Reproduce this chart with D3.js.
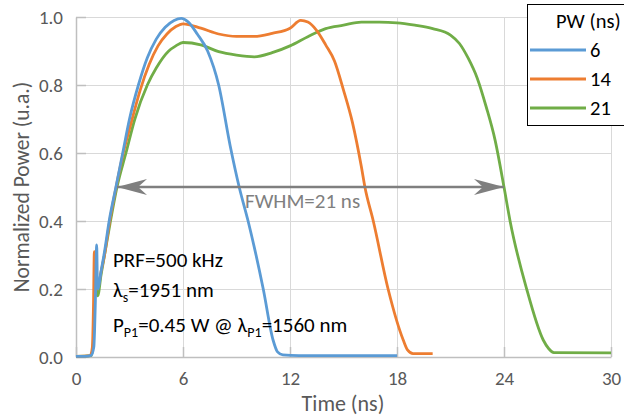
<!DOCTYPE html>
<html lang="en">
<head>
    <meta charset="UTF-8" />
    <title>Normalized pulse shapes</title>
    <style>
        body { margin: 0; background: #fff; }
        svg text { font-family: Carlito, Calibri, Lato, sans-serif; }
    </style>
</head>
<body>
    <svg id="chart" width="624" height="419"></svg>

    <script src="https://d3js.org/d3.v7.min.js"></script>
    <script>
        // --- Data (time in ns, normalized power) ---
        const xTicks = [0, 6, 12, 18, 24, 30];
        const yTicks = [0.0, 0.2, 0.4, 0.6, 0.8, 1.0];
        const seriesNames = ["6", "14", "21"];
        const seriesColors = ["#5B9BD5", "#ED7D31", "#70AD47"];

        const pw6 = [
            [0, 0.002], [0.5, 0.002], [0.85, 0.005], [1.0, 0.03], [1.08, 0.15], [1.16, 0.33],
            [1.2, 0.22], [1.24, 0.2], [1.4, 0.25], [1.6, 0.31], [1.86, 0.4], [2.24, 0.5],
            [2.62, 0.6], [3.0, 0.7], [3.5, 0.8], [4.0, 0.88], [4.5, 0.935], [5.0, 0.97],
            [5.5, 0.99], [5.9, 0.996], [6.3, 0.985], [6.8, 0.95], [7.38, 0.9], [8.0, 0.8],
            [8.65, 0.62], [9.15, 0.5], [9.65, 0.4], [10.5, 0.2], [11.05, 0.05], [11.3, 0.015],
            [11.6, 0.006], [12.5, 0.004], [18, 0.004]
        ];
        const pw14 = [
            [0, 0.002], [0.8, 0.004], [0.92, 0.03], [0.98, 0.15], [1.03, 0.31], [1.08, 0.2],
            [1.2, 0.2], [1.4, 0.25], [1.6, 0.3], [1.86, 0.39], [2.25, 0.5], [2.65, 0.6],
            [3.1, 0.69], [3.6, 0.785], [4.1, 0.86], [4.6, 0.915], [5.1, 0.95], [5.6, 0.972],
            [6, 0.98], [7, 0.967], [8, 0.95], [9, 0.943], [10, 0.943], [11, 0.952],
            [12, 0.967], [12.6, 0.99], [13, 0.985], [13.5, 0.96], [14, 0.918], [14.5, 0.87],
            [15, 0.785], [15.5, 0.69], [16, 0.56], [16.2, 0.5], [16.67, 0.4], [17.5, 0.2],
            [18.35, 0.05], [18.6, 0.02], [18.9, 0.01], [20, 0.01]
        ];
        const pw21 = [
            [0, 0.002], [0.85, 0.004], [0.95, 0.03], [1.02, 0.12], [1.08, 0.26], [1.14, 0.19],
            [1.22, 0.18], [1.4, 0.24], [1.6, 0.3], [1.9, 0.39], [2.3, 0.5], [2.8, 0.6],
            [3.3, 0.7], [4.0, 0.8], [4.5, 0.85], [5.2, 0.9], [5.6, 0.915], [6, 0.925],
            [7, 0.918], [8, 0.898], [9, 0.888], [10, 0.883], [11, 0.895], [12, 0.915],
            [13, 0.942], [14, 0.966], [15, 0.976], [16, 0.985], [17, 0.985], [18, 0.983],
            [19, 0.976], [20, 0.966], [21, 0.947], [21.5, 0.922], [22, 0.878], [22.5, 0.82],
            [23, 0.736], [23.5, 0.638], [24, 0.5], [24.34, 0.4], [25.27, 0.2], [26.2, 0.05],
            [26.5, 0.025], [26.8, 0.013], [30, 0.012]
        ];
        const fwhm = [2.3, 24];   // arrow ends (ns) at half maximum
        const fwhmLevel = 0.5;

        // --- Setup ---
        const svg = d3.select("#chart");
        const x = d3.scaleLinear().domain([0, 30]).range([76, 611]);
        const y = d3.scaleLinear().domain([0, 1]).range([357, 17]);

        const gridColor = "#d9d9d9";
        const axisColor = "#bfbfbf";
        const textColor = "#595959";

        // gridlines
        svg.append("g")
            .attr("transform", `translate(0,${y(0)})`)
            .call(d3.axisBottom(x).tickValues(xTicks.slice(1)).tickSize(-(y(0) - y(1))).tickFormat(""))
            .call(g => g.select(".domain").remove())
            .call(g => g.selectAll("line").attr("stroke", gridColor));
        svg.append("g")
            .attr("transform", `translate(${x(0)},0)`)
            .call(d3.axisLeft(y).tickValues(yTicks.slice(1)).tickSize(-(x(30) - x(0))).tickFormat(""))
            .call(g => g.select(".domain").remove())
            .call(g => g.selectAll("line").attr("stroke", gridColor));

        // axes with inside ticks
        const xAxis = svg.append("g")
            .attr("transform", `translate(0,${y(0)})`)
            .call(d3.axisBottom(x).tickValues(xTicks).tickSize(-10).tickPadding(20).tickSizeOuter(0));
        const yAxis = svg.append("g")
            .attr("transform", `translate(${x(0)},0)`)
            .call(d3.axisLeft(y).tickValues(yTicks).tickSize(-10).tickPadding(13)
                .tickFormat(d3.format(".1f")).tickSizeOuter(0));
        [xAxis, yAxis].forEach(g => {
            g.select(".domain").attr("stroke", axisColor).attr("stroke-width", 1.5);
            g.selectAll(".tick line").attr("stroke", axisColor).attr("stroke-width", 1.5);
            g.selectAll("text").attr("fill", textColor).attr("font-size", 19)
                .style("font-family", "Carlito, Calibri, Lato, sans-serif");
        });
        xAxis.selectAll(".tick text").attr("dy", "0.71em").attr("y", 15);

        // axis titles
        svg.append("text")
            .attr("x", 343).attr("y", 411)
            .attr("text-anchor", "middle")
            .attr("fill", textColor).attr("font-size", 22)
            .text("Time (ns)");
        svg.append("text")
            .attr("transform", "translate(29,187) rotate(-90)")
            .attr("text-anchor", "middle")
            .attr("fill", textColor).attr("font-size", 21.5)
            .text("Normalized Power (u.a.)");

        // series (drawn back to front: 21, 14, 6)
        const line = d3.line()
            .x(d => x(d[0]))
            .y(d => y(d[1]))
            .curve(d3.curveMonotoneX);
        const allSeries = [pw6, pw14, pw21];
        [2, 1, 0].forEach(i => {
            svg.append("path")
                .datum(allSeries[i])
                .attr("fill", "none")
                .attr("stroke", seriesColors[i])
                .attr("stroke-width", 2.8)
                .attr("stroke-linejoin", "round")
                .attr("d", line);
        });

        // FWHM arrow
        const arrowColor = "#7f7f7f";
        const defs = svg.append("defs");
        defs.append("marker")
            .attr("id", "stealth")
            .attr("viewBox", "0 0 30 16")
            .attr("refX", 30).attr("refY", 8)
            .attr("markerWidth", 30).attr("markerHeight", 16)
            .attr("markerUnits", "userSpaceOnUse")
            .attr("orient", "auto-start-reverse")
            .append("path")
            .attr("d", "M0,0 L30,8 L0,16 L9,8 Z")
            .attr("fill", arrowColor);
        svg.append("line")
            .attr("x1", x(fwhm[0])).attr("x2", x(fwhm[1]))
            .attr("y1", y(fwhmLevel)).attr("y2", y(fwhmLevel))
            .attr("stroke", arrowColor).attr("stroke-width", 2.5)
            .attr("marker-start", "url(#stealth)")
            .attr("marker-end", "url(#stealth)");
        svg.append("text")
            .attr("x", 245).attr("y", 208)
            .attr("fill", arrowColor).attr("font-size", 21)
            .text("FWHM=21 ns");

        // annotations
        const note = svg.append("g").attr("fill", "#000").attr("font-size", 21);
        note.append("text").attr("x", 113).attr("y", 267).text("PRF=500 kHz");
        const l2 = note.append("text").attr("x", 113).attr("y", 297);
        l2.append("tspan").text("λ");
        l2.append("tspan").attr("font-size", 14).attr("dy", 5).text("s");
        l2.append("tspan").attr("dy", -5).text("=1951 nm");
        const l3 = note.append("text").attr("x", 113).attr("y", 332);
        l3.append("tspan").text("P");
        l3.append("tspan").attr("font-size", 14).attr("dy", 5).text("P1");
        l3.append("tspan").attr("dy", -5).text("=0.45 W @ λ");
        l3.append("tspan").attr("font-size", 14).attr("dy", 5).text("P1");
        l3.append("tspan").attr("dy", -5).text("=1560 nm");

        // legend
        const legend = svg.append("g");
        legend.append("rect")
            .attr("x", 527.5).attr("y", 4.5)
            .attr("width", 110).attr("height", 121)
            .attr("fill", "#fff").attr("stroke", "#000").attr("stroke-width", 1);
        legend.append("text")
            .attr("x", 556).attr("y", 28)
            .attr("fill", "#000").attr("font-size", 20.5)
            .text("PW (ns)");
        seriesNames.forEach((name, i) => {
            const ly = 50 + i * 29;
            legend.append("line")
                .attr("x1", 530).attr("x2", 586)
                .attr("y1", ly).attr("y2", ly)
                .attr("stroke", seriesColors[i]).attr("stroke-width", 2.8);
            legend.append("text")
                .attr("x", 590).attr("y", ly)
                .attr("dy", "0.35em")
                .attr("fill", "#000").attr("font-size", 20.5)
                .text(name);
        });
    </script>
</body>
</html>
